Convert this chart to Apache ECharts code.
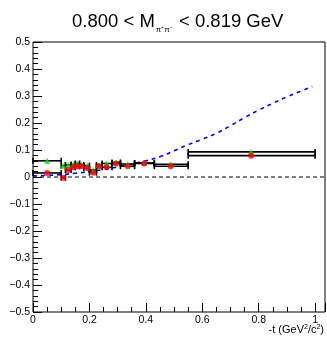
<!DOCTYPE html>
<html>
<head>
<meta charset="utf-8">
<script src="https://cdn.jsdelivr.net/npm/echarts@6/dist/echarts.min.js"></script>
<style>
html, body { margin: 0; padding: 0; background: #fff; }
#c { width: 327px; height: 337px; }
</style>
</head>
<body>
<div id="c"></div>
<script>
// -t bins: lower edge, upper edge, mean -t of the bin
const tLow  = [0.000, 0.100, 0.115, 0.135, 0.150, 0.165, 0.180, 0.200, 0.225, 0.245, 0.280, 0.310, 0.360, 0.430, 0.550];
const tHigh = [0.100, 0.115, 0.135, 0.150, 0.165, 0.180, 0.200, 0.225, 0.245, 0.280, 0.310, 0.360, 0.430, 0.550, 1.000];
const tMean = [0.050, 0.107, 0.125, 0.143, 0.157, 0.172, 0.193, 0.214, 0.234, 0.261, 0.294, 0.336, 0.394, 0.488, 0.773];

// measured asymmetries per bin
const greenVals = [0.060, 0.042, 0.044, 0.046, 0.050, 0.044, 0.042, 0.026, 0.044, 0.050, 0.054, 0.048, 0.052, 0.047, 0.093];
const redVals   = [0.015, -0.003, 0.026, 0.036, 0.040, 0.040, 0.032, 0.016, 0.040, 0.036, 0.050, 0.040, 0.050, 0.040, 0.079];

// model prediction
const curveT    = [0.00, 0.05, 0.10, 0.15, 0.20, 0.25, 0.30, 0.35, 0.40, 0.45, 0.50, 0.55, 0.60, 0.65, 0.70, 0.75, 0.80, 0.85, 0.90, 0.95, 0.99];
const curveVals = [0.004, 0.006, 0.009, 0.014, 0.020, 0.028, 0.037, 0.048, 0.060, 0.075, 0.097, 0.120, 0.140, 0.162, 0.190, 0.220, 0.248, 0.273, 0.297, 0.318, 0.335];

// axis ranges and tick labels
const xRange = [0, 1.035];
const yRange = [-0.5, 0.5];
const xTickLabels = ['0', '0.2', '0.4', '0.6', '0.8', '1'];

const FONT = '"Liberation Sans", Arial, Helvetica, sans-serif';

function barData(vals) {
  return vals.map((v, i) => [tMean[i], v, tLow[i], tHigh[i]]);
}

function renderBar(params, api) {
  const y = api.value(1);
  const p0 = api.coord([api.value(2), y]);
  const p1 = api.coord([api.value(3), y]);
  const cap = 3;
  const style = { stroke: '#000', lineWidth: 1.6, fill: null };
  return {
    type: 'group',
    children: [
      { type: 'line', shape: { x1: p0[0], y1: p0[1], x2: p1[0], y2: p1[1] }, style },
      { type: 'line', shape: { x1: p0[0], y1: p0[1] - cap, x2: p0[0], y2: p0[1] + cap }, style },
      { type: 'line', shape: { x1: p1[0], y1: p1[1] - cap, x2: p1[0], y2: p1[1] + cap }, style }
    ]
  };
}

function yLabel(v) {
  if (Math.abs(v) < 1e-9) return '0';
  return (v < 0 ? '\u2212' : '') + Math.abs(v).toFixed(1);
}

function xLabel(v) {
  const k = Math.round(v / 0.2);
  if (Math.abs(v / 0.2 - k) > 1e-6 || k < 0 || k >= xTickLabels.length) return '';
  return xTickLabels[k];
}

const chart = echarts.init(document.getElementById('c'), null, { renderer: 'canvas' });

chart.setOption({
  animation: false,
  backgroundColor: '#fff',
  title: {
    left: 67,
    top: 5,
    text: '{a|0.800 < M}{s|\u03c0\u207a\u03c0\u207b}{a| < 0.819 GeV}',
    textStyle: {
      fontWeight: 'normal',
      rich: {
        a: { fontFamily: FONT, fontSize: 18.5, fontWeight: 'normal', color: '#000', lineHeight: 24, verticalAlign: 'middle' },
        s: { fontFamily: FONT, fontSize: 8, fontWeight: 'normal', color: '#000', lineHeight: 8, verticalAlign: 'bottom', padding: [0, 1, 0, 1] }
      }
    }
  },
  grid: {
    left: 33, top: 42, width: 292, height: 270,
    show: true, borderColor: '#000', borderWidth: 1, backgroundColor: 'transparent'
  },
  xAxis: {
    type: 'value',
    min: xRange[0], max: xRange[1], interval: 0.2,
    axisLine: { show: false, onZero: false },
    splitLine: { show: false },
    axisTick: { show: true, inside: true, length: 9, lineStyle: { color: '#000', width: 1 } },
    minorTick: { show: true, splitNumber: 4, length: 5, lineStyle: { color: '#000', width: 1 } },
    axisLabel: {
      formatter: xLabel, showMaxLabel: false, margin: 3,
      fontFamily: FONT, fontSize: 10.5, color: '#000'
    }
  },
  yAxis: {
    type: 'value',
    min: yRange[0], max: yRange[1], interval: 0.1,
    axisLine: { show: false, onZero: false },
    splitLine: { show: false },
    axisTick: { show: true, inside: true, length: 9, lineStyle: { color: '#000', width: 1 } },
    minorTick: { show: true, splitNumber: 5, length: 5, lineStyle: { color: '#000', width: 1 } },
    axisLabel: { formatter: yLabel, margin: 3, fontFamily: FONT, fontSize: 10.5, color: '#000' }
  },
  graphic: [
    {
      type: 'text', right: 3, bottom: 2,
      style: {
        text: '-t (GeV{p|2}/c{p|2})',
        fontFamily: FONT, fontSize: 11, fill: '#000',
        rich: { p: { fontFamily: FONT, fontSize: 7, verticalAlign: 'top', fill: '#000', padding: [0, 0, 5, 0] } }
      }
    }
  ],
  series: [
    {
      name: 'zero',
      type: 'line',
      data: [[xRange[0], 0], [xRange[1], 0]],
      symbol: 'none',
      lineStyle: { color: '#000', width: 1, type: [4, 3] },
      silent: true, z: 1
    },
    {
      name: 'model',
      type: 'line',
      data: curveT.map((t, i) => [t, curveVals[i]]),
      smooth: true,
      symbol: 'none',
      lineStyle: { color: '#0000ff', width: 1.6, type: [4, 4] },
      z: 2
    },
    {
      name: 'green bins',
      type: 'custom',
      data: barData(greenVals),
      renderItem: renderBar,
      encode: { x: [0, 2, 3], y: 1 },
      z: 3
    },
    {
      name: 'red bins',
      type: 'custom',
      data: barData(redVals),
      renderItem: renderBar,
      encode: { x: [0, 2, 3], y: 1 },
      z: 3
    },
    {
      name: 'green',
      type: 'scatter',
      data: tMean.map((t, i) => [t, greenVals[i]]),
      symbol: 'triangle', symbolSize: 6,
      itemStyle: { color: '#00e000' },
      z: 4
    },
    {
      name: 'red',
      type: 'scatter',
      data: tMean.map((t, i) => [t, redVals[i]]),
      symbol: 'circle', symbolSize: 6,
      itemStyle: { color: '#ff0000' },
      z: 5
    }
  ]
});
</script>
</body>
</html>
